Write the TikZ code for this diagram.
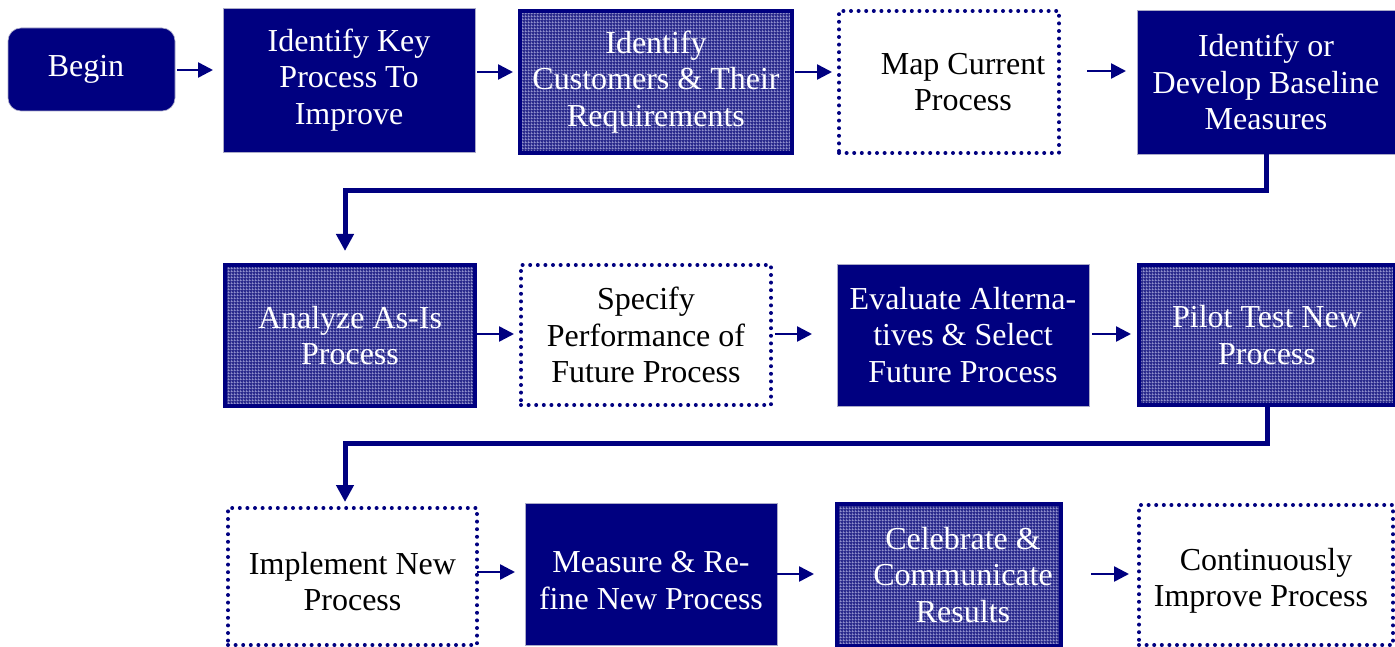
\documentclass[tikz,border=0pt]{standalone}
\usepackage{fontspec}
\setmainfont{Liberation Serif}
\usetikzlibrary{arrows.meta,patterns,patterns.meta}
\definecolor{navy}{RGB}{0,0,128}
\definecolor{patbase}{RGB}{42,42,140}
\definecolor{patlight}{RGB}{155,155,212}
\definecolor{edgelight}{RGB}{170,170,200}
\pgfdeclarepattern{
  name=finegrid,
  type=uncolored,
  bottom left={\pgfpoint{0pt}{0pt}},
  top right={\pgfpoint{3pt}{3pt}},
  tile size={\pgfpoint{3pt}{3pt}},
  code={
    \pgfpathrectangle{\pgfpoint{0pt}{0pt}}{\pgfpoint{3pt}{0.9pt}}
    \pgfpathrectangle{\pgfpoint{0pt}{0pt}}{\pgfpoint{0.9pt}{3pt}}
    \pgfusepath{fill}
  }
}
\newcommand{\shiftline}{\hspace*{28pt}}
\tikzset{
  box/.style={rectangle, inner sep=0pt, outer sep=0pt, align=center,
    font=\fontsize{32}{36.5}\selectfont},
  solidbox/.style={box, fill=navy, draw=edgelight, line width=0.8pt, text=white},
  patbox/.style={box, preaction={fill=patbase},
    preaction={pattern=finegrid, pattern color=patlight},
    draw=navy, line width=3.5pt, text=white},
  dotbox/.style={box, draw=navy, line width=4pt, line cap=round,
    dash pattern=on 0pt off 7.6pt, text=black},
  beginbox/.style={box, fill=navy, draw=edgelight, line width=0.6pt,
    rounded corners=13pt, text=white},
  arr/.style={draw=navy, line width=2.5pt,
    -{Triangle[length=15pt,width=15pt]}},
  elbow/.style={draw=navy, line width=5pt,
    -{Triangle[length=17pt,width=17pt]}},
}
\begin{document}
\begin{tikzpicture}[x=1pt,y=-1pt]
\useasboundingbox (0,0) rectangle (1395,647);
% row 1
\node[beginbox, minimum width=167pt, minimum height=83pt] (beg) at (91.5,69.5) {Begin\hspace*{11pt}};
\node[solidbox, minimum width=252pt, minimum height=144pt] (b1) at (349,80) {Identify Key\\Process To\\Improve};
\node[patbox, minimum width=272pt, minimum height=142pt] (b2) at (656,82) {Identify\\Customers \& Their\\Requirements};
\node[dotbox, minimum width=220pt, minimum height=142pt] (b3) at (949,82) {\shiftline Map Current\\\shiftline Process};
\node[solidbox, minimum width=258pt, minimum height=144pt] (b4) at (1266,82) {Identify or\\Develop Baseline\\Measures};
% row 2
\node[patbox, minimum width=250pt, minimum height=141pt] (b5) at (350,335.5) {Analyze As-Is\\Process};
\node[dotbox, minimum width=250pt, minimum height=140pt] (b6) at (646,335) {Specify\\Performance of\\Future Process};
\node[solidbox, minimum width=252pt, minimum height=142pt] (b7) at (963,335) {Evaluate Alterna-\\tives \& Select\\Future Process};
\node[patbox, minimum width=256pt, minimum height=140pt] (b8) at (1267,335) {Pilot Test New\\Process};
% row 3
\node[dotbox, minimum width=249pt, minimum height=137pt] (b9) at (352.5,576.5) {\rule{0pt}{32pt}Implement New\\Process};
\node[solidbox, minimum width=252pt, minimum height=142pt] (b10) at (651,574) {\rule{0pt}{34pt}Measure \& Re-\\fine New Process};
\node[patbox, minimum width=224pt, minimum height=142pt] (b11) at (949,575) {\shiftline Celebrate \&\\\shiftline Communicate\\\shiftline Results};
\node[dotbox, minimum width=254pt, minimum height=140pt] (b12) at (1266,575) {\rule{0pt}{34pt}Continuously\\Improve Process\hspace*{10pt}};
% arrows row 1
\draw[arr, shorten <=2pt, shorten >=10pt] (beg.east |- 0,70) -- (b1.west |- 0,70);
\draw[arr, shorten <=2pt, shorten >=7pt] (b1.east |- 0,72) -- (b2.west |- 0,72);
\draw[arr, shorten <=3pt, shorten >=7pt] (b2.east |- 0,72) -- (b3.west |- 0,72);
\draw[arr, shorten <=28pt, shorten >=11pt] (b3.east |- 0,71) -- (b4.west |- 0,71);
% arrows row 2
\draw[arr, shorten <=2pt, shorten >=7pt] (b5.east |- 0,334) -- (b6.west |- 0,334);
\draw[arr, shorten <=4pt, shorten >=25pt] (b6.east |- 0,334) -- (b7.west |- 0,334);
\draw[arr, shorten <=3pt, shorten >=8pt] (b7.east |- 0,334) -- (b8.west |- 0,334);
% arrows row 3
\draw[arr, shorten <=0pt, shorten >=10pt] (b9.east |- 0,572) -- (b10.west |- 0,572);
\draw[arr, shorten <=0pt, shorten >=23pt] (b10.east |- 0,574) -- (b11.west |- 0,574);
\draw[arr, shorten <=30pt, shorten >=10pt] (b11.east |- 0,574) -- (b12.west |- 0,574);
% elbow connectors
\coordinate (k1) at (345,190.5);
\coordinate (k2) at (345,443.5);
\draw[elbow, shorten >=14pt] (b4.south) |- (k1) -- (k1 |- b5.north);
\draw[elbow, shorten >=6pt] (b8.south) |- (k2) -- (k2 |- b9.north);
\end{tikzpicture}
\end{document}
